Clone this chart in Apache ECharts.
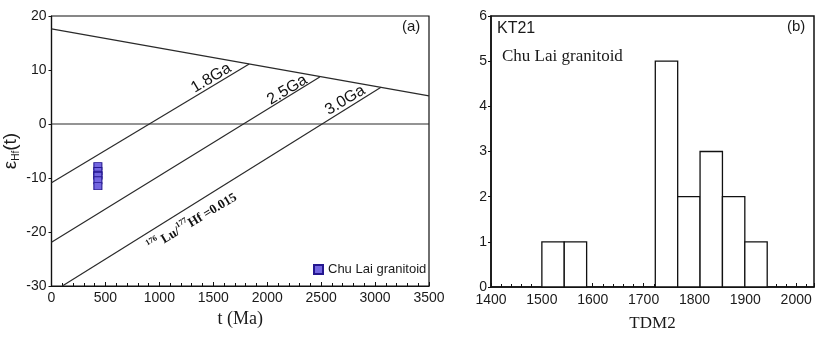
<!DOCTYPE html>
<html><head><meta charset="utf-8">
<script src="https://cdn.jsdelivr.net/npm/echarts@6/dist/echarts.min.js"></script>
<style>html,body{margin:0;padding:0;background:#fff}#c{width:817px;height:337px}</style>
</head><body><div id="c"></div>
<script>
// ---- Panel (a) data ----
const xTicksA = [0, 3500, 500];          // min, max, interval
const yTicksA = [-30, 20, 10];
const dmLine   = [[0, 17.6], [3500, 5.2]];
const ga18Line = [[0, -10.9], [1833, 11.1]];
const ga25Line = [[0, -21.9], [2487, 8.7]];
const ga30Line = [[100, -30], [3055, 6.8]];
const zeroLine = [[0, 0], [3500, 0]];
const chuLaiAge = 430;
const chuLaiEHf = [-7.8, -8.7, -9.4, -9.6, -10.4, -11.5];
const lineLabels = [
  {name: '1.8Ga', value: [1480, 8.5]},
  {name: '2.5Ga', value: [2186, 6.3]},
  {name: '3.0Ga', value: [2723, 4.4]}
];
const luHfLabel = [{name: 'luhf', value: [1300, -18.0]}];

// ---- Panel (b) data ----
const xTicksB = [1400, 2035, 100];
const yTicksB = [0, 6, 1];
const binStarts = [1500, 1544, 1723, 1767, 1811, 1855, 1899];
const binEnds   = [1544, 1588, 1767, 1811, 1855, 1899, 1943];
const counts    = [1, 1, 5, 2, 3, 2, 1];

const SANS = "'Liberation Sans', Arial, sans-serif";
const SERIF = "'Liberation Serif', 'Times New Roman', serif";
const ink = '#1a1a1a';
const lineCol = '#2a2a2a';

const chart = echarts.init(document.getElementById('c'), null, {renderer: 'canvas'});

const histData = binStarts.map((s, i) => [s, binEnds[i], counts[i]]);

function lineSeries(data) {
  return {type: 'line', xAxisIndex: 0, yAxisIndex: 0, data: data, symbol: 'none',
    lineStyle: {color: lineCol, width: 1.2}, silent: true, z: 3};
}

const option = {
  backgroundColor: '#fff',
  animation: false,
  grid: [
    {left: 49, top: 16, width: 380, height: 270, show: true, borderColor: '#111', borderWidth: 1.2, backgroundColor: '#fff'},
    {left: 491, top: 16, width: 323, height: 271, show: true, borderColor: '#111', borderWidth: 1.5, backgroundColor: '#fff'}
  ],
  legend: {
    data: ['Chu Lai granitoid'], left: 308, top: 258, icon: 'rect', itemWidth: 9, itemHeight: 9,
    textStyle: {fontFamily: SANS, fontSize: 13, color: ink}, itemGap: 4
  },
  xAxis: [
    {type: 'value', gridIndex: 0, min: xTicksA[0], max: xTicksA[1], interval: xTicksA[2],
     name: 't (Ma)', nameLocation: 'middle', nameGap: 24,
     nameTextStyle: {fontFamily: SERIF, fontSize: 18, color: ink},
     axisLine: {onZero: false, lineStyle: {color: '#111', width: 1.2}},
     axisTick: {inside: true, length: 4, lineStyle: {color: '#111'}},
     minorTick: {show: true, splitNumber: 5, length: 3, lineStyle: {color: '#111'}},
     splitLine: {show: false},
     axisLabel: {fontFamily: SANS, fontSize: 14, color: ink, margin: 5, formatter: v => String(v)}},
    {type: 'value', gridIndex: 1, min: xTicksB[0], max: xTicksB[1], interval: xTicksB[2],
     name: 'TDM2', nameLocation: 'middle', nameGap: 28,
     nameTextStyle: {fontFamily: SERIF, fontSize: 17, color: ink},
     axisLine: {onZero: false, lineStyle: {color: '#111', width: 1.5}},
     axisTick: {inside: true, length: 4, lineStyle: {color: '#111'}},
     minorTick: {show: true, splitNumber: 5, length: 3, lineStyle: {color: '#111'}},
     splitLine: {show: false},
     axisLabel: {fontFamily: SANS, fontSize: 14, color: ink, margin: 6,
       formatter: v => (v % 100 === 0 ? String(v) : '')}}
  ],
  yAxis: [
    {type: 'value', gridIndex: 0, min: yTicksA[0], max: yTicksA[1], interval: yTicksA[2],
     name: '{e|ε}{s|Hf}{e|(t)}', nameLocation: 'middle', nameGap: 30, nameRotate: 90,
     nameTextStyle: {color: ink, rich: {
       e: {fontFamily: SANS, fontSize: 19, color: ink, lineHeight: 22},
       s: {fontFamily: SANS, fontSize: 10, color: ink, lineHeight: 22, verticalAlign: 'bottom', padding: [6, 0, 0, 0]}
     }},
     axisLine: {onZero: false, lineStyle: {color: '#111', width: 1.2}},
     axisTick: {inside: false, length: 3, lineStyle: {color: '#111'}},
     splitLine: {show: false},
     axisLabel: {fontFamily: SANS, fontSize: 14, color: ink, margin: 5}},
    {type: 'value', gridIndex: 1, min: yTicksB[0], max: yTicksB[1], interval: yTicksB[2],
     axisLine: {onZero: false, lineStyle: {color: '#111', width: 1.5}},
     axisTick: {inside: false, length: 3, lineStyle: {color: '#111'}},
     splitLine: {show: false},
     axisLabel: {fontFamily: SANS, fontSize: 14, color: ink, margin: 4}}
  ],
  series: [
    lineSeries(dmLine),
    lineSeries(ga18Line),
    lineSeries(ga25Line),
    lineSeries(ga30Line),
    lineSeries(zeroLine),
    {type: 'scatter', name: 'Chu Lai granitoid', xAxisIndex: 0, yAxisIndex: 0,
     data: chuLaiEHf.map(v => [chuLaiAge, v]), symbol: 'rect', symbolSize: [8, 7],
     itemStyle: {color: '#7366e0', borderColor: '#24178f', borderWidth: 1, opacity: 1}, z: 5},
    {type: 'scatter', name: 'lbl', xAxisIndex: 0, yAxisIndex: 0, data: lineLabels, symbolSize: 0, silent: true,
     itemStyle: {opacity: 1},
     label: {show: true, position: 'inside', rotate: 31, formatter: p => p.name,
       fontFamily: SANS, fontSize: 16, color: '#111', textBorderWidth: 0, textBorderColor: 'transparent'}},
    {type: 'scatter', name: 'lbl2', xAxisIndex: 0, yAxisIndex: 0, data: luHfLabel, symbolSize: 0, silent: true,
     itemStyle: {opacity: 1},
     label: {show: true, position: 'inside', rotate: 31, textBorderWidth: 0, textBorderColor: 'transparent',
       formatter: '{sup|176} {b|Lu/}{sup|177}{b|Hf =0.015}',
       rich: {
         sup: {fontFamily: SERIF, fontSize: 8, color: '#111', fontWeight: 'bold', verticalAlign: 'top', lineHeight: 16, textBorderWidth: 0},
         b: {fontFamily: SERIF, fontSize: 13, color: '#111', fontWeight: 'bold', lineHeight: 16, verticalAlign: 'bottom', textBorderWidth: 0}
       }}},
    {type: 'custom', name: 'hist', xAxisIndex: 1, yAxisIndex: 1, data: histData,
     encode: {x: [0, 1], y: 2},
     renderItem: function (params, api) {
       const a = api.coord([api.value(0), api.value(2)]);
       const b = api.coord([api.value(1), 0]);
       return {type: 'rect', shape: {x: a[0], y: a[1], width: b[0] - a[0], height: b[1] - a[1]},
         style: {fill: '#fff', stroke: '#111', lineWidth: 1.3}};
     }, z: 3}
  ],
  graphic: [
    {type: 'text', left: 402, top: 19, style: {text: '(a)', font: "15px 'Liberation Sans', Arial", fill: ink}},
    {type: 'text', left: 787, top: 19, style: {text: '(b)', font: "15px 'Liberation Sans', Arial", fill: ink}},
    {type: 'text', left: 497, top: 21, style: {text: 'KT21', font: "16px 'Liberation Sans', Arial", fill: ink}},
    {type: 'text', left: 502, top: 48, style: {text: 'Chu Lai granitoid', font: "17px 'Liberation Serif', 'Times New Roman'", fill: ink}}
  ]
};
chart.setOption(option);
</script></body></html>
